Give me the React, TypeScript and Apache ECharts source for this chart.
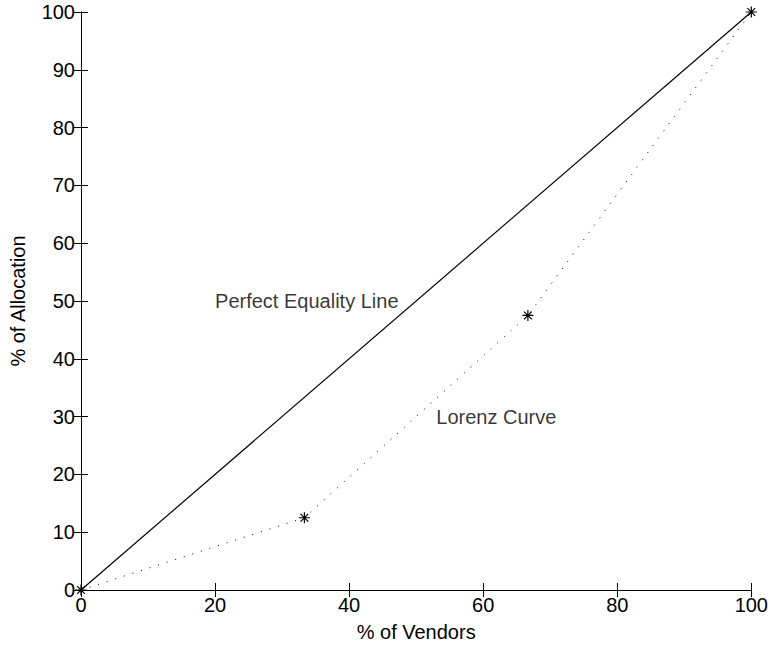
import React, { useEffect, useRef } from "react";
import * as echarts from "echarts";

const vendorPct = [0, 33.33, 66.67, 100];
const allocationPct = [0, 12.5, 47.5, 100];
const equalityX = [0, 100];
const equalityY = [0, 100];
const annotationText = ["Perfect Equality Line", "Lorenz Curve"];
const annotationX = [20, 53];
const annotationY = [50, 30];

const FONT = "'Liberation Sans', Arial, Helvetica, sans-serif";
const ASTERISK =
  "path://M5,0L5,10M0,5L10,5M1.46,1.46L8.54,8.54M1.46,8.54L8.54,1.46";

export default function App() {
  const ref = useRef<HTMLDivElement>(null);
  useEffect(() => {
    if (!ref.current) return;
    const chart = echarts.init(ref.current, null, { renderer: "svg" });
    const axisCommon = {
      type: "value" as const,
      min: 0,
      max: 100,
      interval: 20,
      splitLine: { show: false },
      axisLine: { show: true, lineStyle: { color: "#000", width: 1 } },
      axisTick: { show: true, inside: true, length: 7, lineStyle: { color: "#000", width: 1 } },
    };
    chart.setOption({
      animation: false,
      backgroundColor: "#fff",
      grid: { left: 81, top: 12, width: 671, height: 578, containLabel: false },
      xAxis: [
        {
          ...axisCommon,
          position: "bottom",
          name: "% of Vendors",
          nameLocation: "middle",
          nameGap: 32,
          nameTextStyle: { fontFamily: FONT, fontSize: 20, color: "#000" },
          axisLabel: { fontFamily: FONT, fontSize: 20, color: "#000", margin: 5 },
        },
        {
          ...axisCommon,
          position: "top",
          axisLabel: { show: false },
        },
      ],
      yAxis: [
        {
          ...axisCommon,
          interval: 10,
          position: "left",
          name: "% of Allocation",
          nameLocation: "middle",
          nameGap: 53,
          nameTextStyle: { fontFamily: FONT, fontSize: 20, color: "#000" },
          axisLabel: { fontFamily: FONT, fontSize: 20, color: "#000", margin: 6 },
        },
        {
          ...axisCommon,
          interval: 10,
          position: "right",
          axisLabel: { show: false },
        },
      ],
      series: [
        {
          type: "line",
          data: equalityX.map((x, i) => [x, equalityY[i]]),
          showSymbol: false,
          symbol: "none",
          lineStyle: { color: "#000", width: 1.2 },
          silent: true,
        },
        {
          type: "line",
          data: vendorPct.map((x, i) => [x, allocationPct[i]]),
          symbol: ASTERISK,
          symbolSize: 11,
          showAllSymbol: true,
          itemStyle: { color: "#000", borderColor: "#000", borderWidth: 1.2 },
          lineStyle: { color: "#000", width: 1, type: [1, 8] },
          silent: true,
          z: 3,
        },
        {
          type: "scatter",
          data: annotationText.map((t, i) => ({ name: t, value: [annotationX[i], annotationY[i]] })),
          symbolSize: 0,
          silent: true,
          label: {
            show: true,
            position: "right",
            distance: 0,
            formatter: (p: any) => p.name,
            fontFamily: FONT,
            fontSize: 20,
            color: "#000",
          },
        },
      ],
    });
    return () => chart.dispose();
  }, []);
  return (
    <div
      ref={ref}
      style={{ position: "fixed", left: 0, top: 0, width: 771, height: 648, background: "#fff" }}
    />
  );
}
